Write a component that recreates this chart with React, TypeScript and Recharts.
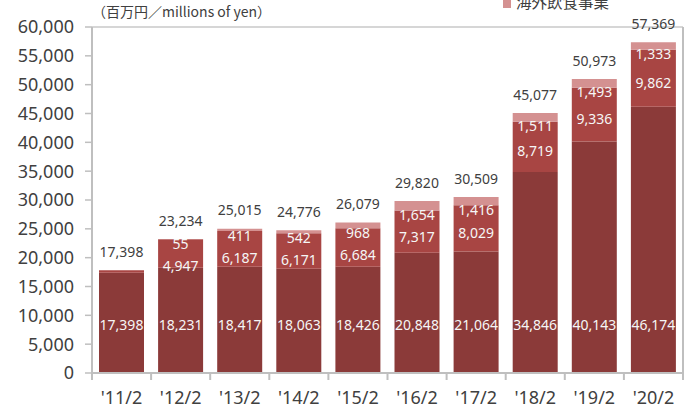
import { BarChart, Bar, XAxis, YAxis, CartesianGrid, LabelList } from 'recharts'

const years = ["'11/2", "'12/2", "'13/2", "'14/2", "'15/2", "'16/2", "'17/2", "'18/2", "'19/2", "'20/2"]
const baseValues = [17398, 18231, 18417, 18063, 18426, 20848, 21064, 34846, 40143, 46174]
// '11/2 shows only a thin unlabelled strip on top of the base bar
const midValues = [400, 4947, 6187, 6171, 6684, 7317, 8029, 8719, 9336, 9862]
const overseasValues = [0, 55, 411, 542, 968, 1654, 1416, 1511, 1493, 1333]
const totals = [17398, 23234, 25015, 24776, 26079, 29820, 30509, 45077, 50973, 57369]
const yTicks = [0, 5000, 10000, 15000, 20000, 25000, 30000, 35000, 40000, 45000, 50000, 55000, 60000]

const data = years.map((year, i) => ({
  year,
  base: baseValues[i],
  mid: midValues[i],
  overseas: overseasValues[i],
  total: totals[i],
}))

const FONT = '"Noto Sans", sans-serif'
const fmt = (v: number) => v.toLocaleString('en-US')

function BaseLabel(props: any) {
  const { x, y, width, height, value } = props
  return (
    <text x={x + width / 2} y={y + height - 49} fill="#f6f6f6" fontSize={14} fontFamily={FONT}
      textAnchor="middle" dominantBaseline="central">{fmt(value)}</text>
  )
}

function MidLabel(props: any) {
  const { x, y, width, height, value, index } = props
  if (index === 0) return null
  const ty = Math.max(y + height / 2 + 4, y + 26)
  return (
    <text x={x + width / 2} y={ty} fill="#f6f6f6" fontSize={14} fontFamily={FONT}
      textAnchor="middle" dominantBaseline="central">{fmt(value)}</text>
  )
}

function OverseasLabel(props: any) {
  const { x, y, width, height, value } = props
  if (!value) return null
  return (
    <text x={x + width / 2} y={y + height + 4} fill="#f6f6f6" fontSize={14} fontFamily={FONT}
      textAnchor="middle" dominantBaseline="central">{fmt(value)}</text>
  )
}

// drawn from the base segment: scales its own height up to the stack total
function TotalLabel(props: any) {
  const { x, y, width, height, index } = props
  const d = data[index]
  const bottom = y + height
  const top = bottom - height * (d.base + d.mid + d.overseas) / d.base
  return (
    <text x={x + width / 2} y={top - 19} fill="#404040" fontSize={14} fontFamily={FONT}
      textAnchor="middle" dominantBaseline="central">{fmt(d.total)}</text>
  )
}

function XTick(props: any) {
  const { x, y, payload, index } = props
  const half = payload.offset ?? 29.55
  return (
    <g>
      <line x1={x - half} x2={x - half} y1={y} y2={y + 7} stroke="#bfbfbf" strokeWidth={2} />
      {index === years.length - 1 && (
        <line x1={x + half} x2={x + half} y1={y} y2={y + 7} stroke="#bfbfbf" strokeWidth={2} />
      )}
      <text x={x} y={y + 24} fill="#404040" fontSize={18} fontFamily={FONT}
        textAnchor="middle" dominantBaseline="central">{payload.value}</text>
    </g>
  )
}

export default function App() {
  return (
    <div style={{ position: 'absolute', left: 0, top: 0, width: 686, height: 414, background: '#fff', overflow: 'hidden' }}>
      <div style={{ position: 'absolute', left: 92, top: 3, fontSize: 14, lineHeight: '17px', color: '#404040',
        fontFamily: '"Noto Sans CJK JP", sans-serif', whiteSpace: 'nowrap' }}>
        （百万円／millions of yen）
      </div>
      <div style={{ position: 'absolute', left: 503, top: 0, width: 8, height: 8, background: '#d49191' }} />
      <div style={{ position: 'absolute', left: 516, top: -8, fontSize: 15.5, lineHeight: '18px', color: '#404040',
        fontFamily: '"Noto Sans CJK JP", sans-serif', whiteSpace: 'nowrap' }}>
        海外飲食事業
      </div>
      <BarChart width={686} height={414} data={data} barSize={45}
        margin={{ top: 27, right: 0, left: 0, bottom: 0 }}>
        <CartesianGrid vertical={false} stroke="#c8c8c8" strokeWidth={1.5} />
        <XAxis dataKey="year" height={41} tickSize={0} tickMargin={0} tickLine={false}
          axisLine={{ stroke: '#bfbfbf', strokeWidth: 2 }} tick={<XTick />} interval={0} />
        <YAxis yAxisId="l" width={92} domain={[0, 60000]} ticks={yTicks} tickFormatter={fmt}
          tickSize={7} tickMargin={11} tickLine={{ stroke: '#bfbfbf', strokeWidth: 1.5 }}
          axisLine={{ stroke: '#bfbfbf', strokeWidth: 2 }}
          tick={{ fill: '#404040', fontSize: 18, fontFamily: FONT }} />
        <YAxis yAxisId="r" orientation="right" width={3} domain={[0, 60000]} tick={false} tickLine={false}
          axisLine={{ stroke: '#bfbfbf', strokeWidth: 2 }} />
        <Bar yAxisId="l" dataKey="base" stackId="a" fill="#8b3a39" isAnimationActive={false}>
          <LabelList dataKey="base" content={<BaseLabel />} />
          <LabelList dataKey="total" content={<TotalLabel />} />
        </Bar>
        <Bar yAxisId="l" dataKey="mid" stackId="a" fill="#a84543" isAnimationActive={false}>
          <LabelList dataKey="mid" content={<MidLabel />} />
        </Bar>
        <Bar yAxisId="l" dataKey="overseas" stackId="a" fill="#d49191" isAnimationActive={false}>
          <LabelList dataKey="overseas" content={<OverseasLabel />} />
        </Bar>
      </BarChart>
    </div>
  )
}
